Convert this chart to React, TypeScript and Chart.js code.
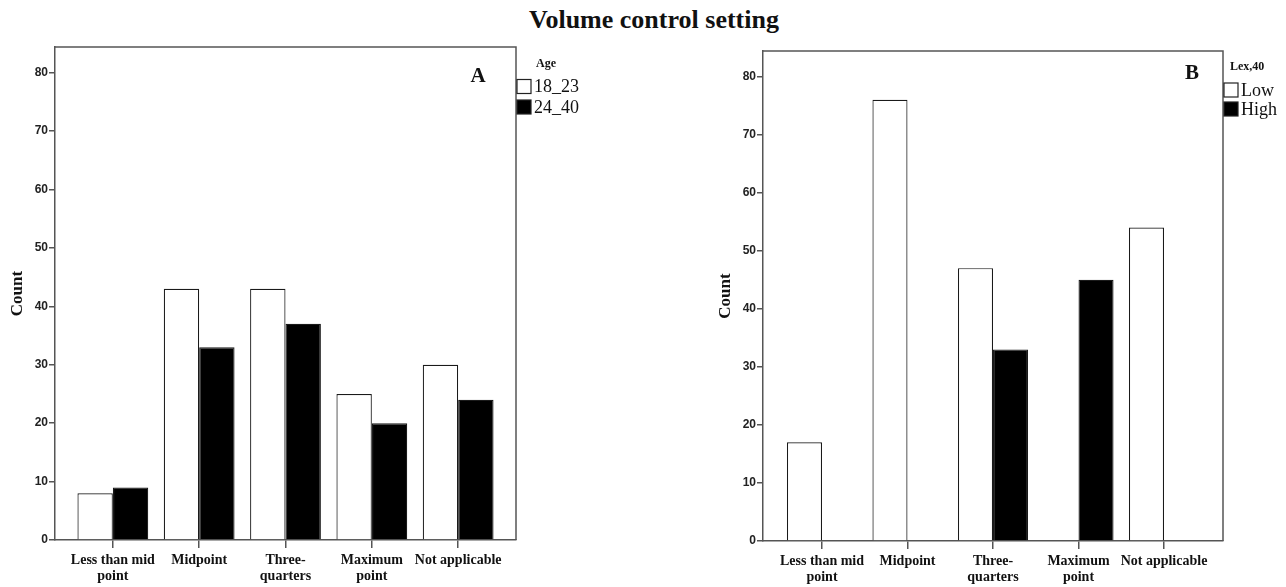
import React, { useEffect, useRef } from "react";
import { Chart, registerables } from "chart.js";

Chart.register(...registerables);

// ---- data ----
const categories: string[][] = [
  ["Less than mid", "point"],
  ["Midpoint"],
  ["Three-", "quarters"],
  ["Maximum", "point"],
  ["Not applicable"],
];
const yTicks = [0, 10, 20, 30, 40, 50, 60, 70, 80];

const ageTitle = "Age";
const ageLabels = ["18_23", "24_40"];
const age18_23 = [8, 43, 43, 25, 30];
const age24_40 = [9, 33, 37, 20, 24];

const lexTitle = "Lex,40";
const lexLabels = ["Low", "High"];
const lexLow = [17, 76, 47, 0, 54];
const lexHigh = [0, 0, 33, 45, 0];

const chartTitle = "Volume control setting";

const SERIF = "'Liberation Serif', 'Times New Roman', serif";
const NARROW = "'Liberation Sans Narrow', 'Arial Narrow', 'Liberation Sans', sans-serif";
const AXIS = "#555";

type PanelOpts = {
  letter: string;
  legendTitle: string;
  labels: string[];
  series: number[][];
  xMin: number;
  xMax: number;
  pad: { left: number; right: number; top: number };
  xHeight: number;
  letterDx: number;
  letterDy: number;
  legendTitleDx: number;
  legendTitleDy: number;
  boxDy: number[];
};

const framePlugin = {
  id: "frame",
  afterDraw(chart: any) {
    const { ctx, chartArea: a } = chart;
    ctx.save();
    ctx.strokeStyle = AXIS;
    ctx.lineWidth = 1.5;
    ctx.beginPath();
    ctx.moveTo(a.left, a.top);
    ctx.lineTo(a.right, a.top);
    ctx.lineTo(a.right, a.bottom);
    ctx.stroke();
    ctx.restore();
  },
};

const panelPlugin = {
  id: "panel",
  afterDraw(chart: any, _args: any, o: any) {
    const { ctx, chartArea: a } = chart;
    ctx.save();
    // panel letter
    ctx.fillStyle = "#111";
    ctx.font = `bold 21px ${SERIF}`;
    ctx.textAlign = "center";
    ctx.textBaseline = "middle";
    ctx.fillText(o.letter, a.right - o.letterDx, a.top + o.letterDy);
    // legend
    ctx.textAlign = "left";
    ctx.font = `bold 12px ${SERIF}`;
    ctx.fillText(o.legendTitle, a.right + o.legendTitleDx, a.top + o.legendTitleDy);
    ctx.font = `18px ${SERIF}`;
    chart.data.datasets.forEach((ds: any, i: number) => {
      const y = a.top + o.boxDy[i];
      ctx.fillStyle = ds.backgroundColor;
      ctx.fillRect(a.right + 1, y, 14, 14);
      ctx.strokeStyle = "#222";
      ctx.lineWidth = 1.2;
      ctx.strokeRect(a.right + 1, y, 14, 14);
      ctx.fillStyle = "#111";
      ctx.fillText(ds.label, a.right + 18, y + 8);
    });
    ctx.restore();
  },
};

function makeConfig(o: PanelOpts): any {
  const colors = ["#ffffff", "#000000"];
  return {
    type: "bar",
    data: {
      datasets: o.series.map((vals, k) => ({
        label: o.labels[k],
        data: vals.map((v, i) => ({ x: i, y: v })),
        backgroundColor: colors[k],
        borderColor: "#1a1a1a",
        borderWidth: 1.2,
        borderSkipped: "start",
        categoryPercentage: 0.82,
        barPercentage: 1,
      })),
    },
    options: {
      animation: false,
      responsive: false,
      events: [],
      layout: { padding: { left: o.pad.left, right: o.pad.right, top: o.pad.top, bottom: 0 } },
      plugins: {
        legend: { display: false },
        tooltip: { enabled: false },
        panel: o,
      },
      scales: {
        x: {
          type: "linear",
          offset: false,
          min: o.xMin,
          max: o.xMax,
          afterBuildTicks: (s: any) => {
            s.ticks = categories.map((_, i) => ({ value: i }));
          },
          afterFit: (s: any) => {
            s.height = o.xHeight;
          },
          ticks: {
            autoSkip: false,
            maxRotation: 0,
            minRotation: 0,
            padding: 5,
            color: "#111",
            font: { family: SERIF, weight: "bold", size: 14, lineHeight: 1.12 },
            callback: (v: number) => categories[v] ?? "",
          },
          grid: {
            offset: false,
            drawOnChartArea: false,
            drawTicks: true,
            tickLength: 8,
            color: AXIS,
            lineWidth: 1.5,
          },
          border: { display: true, color: AXIS, width: 1.5 },
        },
        y: {
          type: "linear",
          min: 0,
          max: 84.4,
          afterBuildTicks: (s: any) => {
            s.ticks = yTicks.map((v) => ({ value: v }));
          },
          afterFit: (s: any) => {
            s.width = 55;
          },
          ticks: {
            padding: 1,
            color: "#222",
            font: { family: NARROW, weight: "bold", size: 12 },
          },
          grid: { drawOnChartArea: false, drawTicks: true, tickLength: 6, color: AXIS, lineWidth: 1.5 },
          border: { display: true, color: AXIS, width: 1.5 },
          title: {
            display: true,
            text: "Count",
            color: "#111",
            font: { family: SERIF, weight: "bold", size: 17 },
            padding: { top: 7, bottom: 0 },
          },
        },
      },
    },
    plugins: [framePlugin, panelPlugin],
  };
}

function Panel({ opts, left }: { opts: PanelOpts; left: number }) {
  const ref = useRef<HTMLCanvasElement>(null);
  useEffect(() => {
    if (!ref.current) return;
    const chart = new Chart(ref.current, makeConfig(opts));
    return () => chart.destroy();
  }, []);
  return (
    <canvas
      ref={ref}
      width={643}
      height={587}
      style={{ position: "absolute", left, top: 0, width: 643, height: 587 }}
    />
  );
}

const leftOpts: PanelOpts = {
  letter: "A",
  legendTitle: ageTitle,
  labels: ageLabels,
  series: [age18_23, age24_40],
  xMin: -0.67,
  xMax: 4.67,
  pad: { left: 0, right: 127, top: 47 },
  xHeight: 47,
  letterDx: 38,
  letterDy: 30,
  legendTitleDx: 20,
  legendTitleDy: 17,
  boxDy: [32.5, 53],
};

const rightOpts: PanelOpts = {
  letter: "B",
  legendTitle: lexTitle,
  labels: lexLabels,
  series: [lexLow, lexHigh],
  xMin: -0.69,
  xMax: 4.69,
  pad: { left: 65, right: 63, top: 51 },
  xHeight: 46,
  letterDx: 31,
  letterDy: 23,
  legendTitleDx: 7,
  legendTitleDy: 16,
  boxDy: [32, 51],
};

export default function App() {
  return (
    <div
      style={{
        position: "fixed",
        left: 0,
        top: 0,
        width: 1286,
        height: 587,
        background: "#fff",
        overflow: "hidden",
      }}
    >
      <div
        style={{
          position: "absolute",
          left: 354,
          width: 600,
          top: 7,
          textAlign: "center",
          fontFamily: SERIF,
          fontWeight: "bold",
          fontSize: 26,
          lineHeight: "26px",
          color: "#111",
        }}
      >
        {chartTitle}
      </div>
      <Panel opts={leftOpts} left={0} />
      <Panel opts={rightOpts} left={643} />
    </div>
  );
}
